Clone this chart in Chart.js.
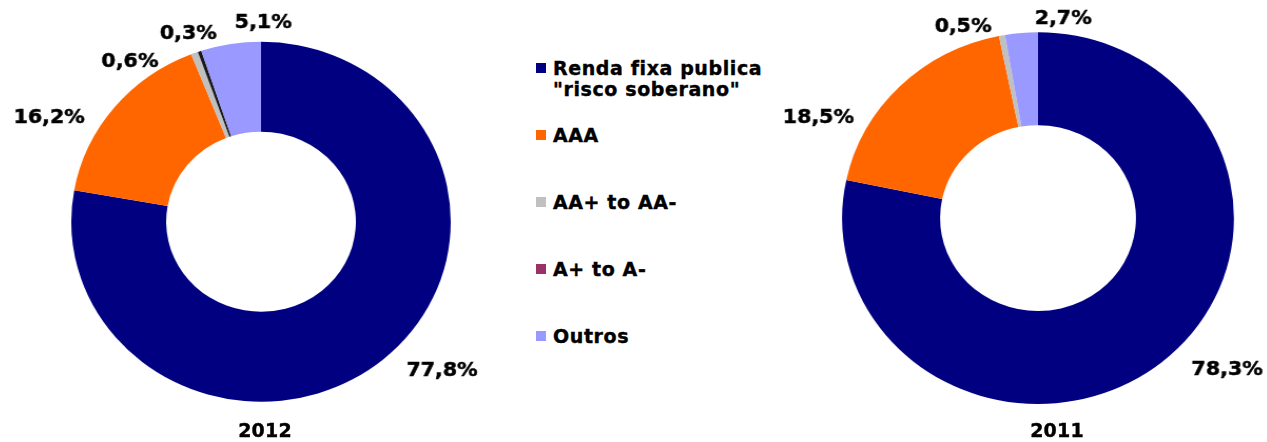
<!DOCTYPE html>
<html>
<head>
<meta charset="utf-8">
<script src="https://cdn.jsdelivr.net/npm/chart.js@4/dist/chart.umd.min.js"></script>
<style>
  html, body { margin: 0; padding: 0; background: #fff; overflow: hidden; }
  body { width: 1267px; height: 442px; position: relative; font-family: "DejaVu Sans", Verdana, sans-serif; font-weight: bold; color: #000; }
  .pie { position: absolute; top: 0; width: 500px; height: 442px; transform: scaleX(1.054); transform-origin: 250px 0; }
  .year { position: absolute; top: 419px; width: 100px; margin-left: -50px; text-align: center; font-size: 19px; line-height: 22px; letter-spacing: 0.2px; -webkit-text-stroke: 0.4px #000; }
  .item { position: absolute; left: 536px; font-size: 19px; line-height: 21.5px; letter-spacing: 0.6px; -webkit-text-stroke: 0.4px #000; }
  .item .box { position: absolute; left: 0; top: 5px; width: 10px; height: 10px; }
  .item .txt { margin-left: 17px; white-space: nowrap; }
</style>
</head>
<body>
<div class="pie" id="wrap2012" style="left:11px"><canvas id="pie2012"></canvas></div>
<div class="pie" id="wrap2011" style="left:788px"><canvas id="pie2011"></canvas></div>
<div class="year" style="left:265px">2012</div>
<div class="year" style="left:1057px">2011</div>
<div id="legend"></div>
<script>
// categories and values (%)
const categories = ['Renda fixa publica\n"risco soberano"', 'AAA', 'AA+ to AA-', 'A+ to A-', 'Outros'];
const values2012 = [77.8, 16.2, 0.6, 0.3, 5.1];
const values2011 = [78.3, 18.5, 0.5, 0, 2.7];

const legendColors = ['#000080', '#FF6600', '#C0C0C0', '#993366', '#9999FF'];
const sliceColors = ['#000080', '#FF6600', '#C0C0C0', '#1a1a1a', '#9999FF'];

// label placement: angle nudge (deg) from slice middle, distance as share of outer radius
const labelShift2012 = [-9.1, -11.9, -17.4, -1.3, 9.8];
const labelDist2012 = [1.263, 1.257, 1.124, 1.111, 1.104];
const labelShift2011 = [-10.8, -19.5, -9.8, 0, 11.7];
const labelDist2011 = [1.263, 1.244, 1.096, 1, 1.081];

function fmt(v) {
  return v.toFixed(1).replace('.', ',') + '%';
}

const pctLabels = {
  id: 'pctLabels',
  afterDatasetsDraw(chart, args, opts) {
    const ctx = chart.ctx;
    const meta = chart.getDatasetMeta(0);
    const vals = chart.data.datasets[0].data;
    ctx.save();
    ctx.font = 'bold 19.5px "DejaVu Sans"';
    ctx.fillStyle = '#000';
    ctx.strokeStyle = '#000';
    ctx.lineWidth = 0.5;
    ctx.textAlign = 'center';
    ctx.textBaseline = 'middle';
    meta.data.forEach((arc, i) => {
      if (!vals[i]) return;
      const p = arc.getProps(['x', 'y', 'startAngle', 'endAngle', 'outerRadius'], true);
      const a = (p.startAngle + p.endAngle) / 2 + opts.shift[i] * Math.PI / 180;
      const r = p.outerRadius * opts.dist[i];
      const x = p.x + Math.cos(a) * r;
      const y = p.y + Math.sin(a) * r;
      ctx.fillText(fmt(vals[i]), x, y);
      ctx.strokeText(fmt(vals[i]), x, y);
    });
    ctx.restore();
  }
};

function makeDoughnut(id, values, padTop, padBottom, shift, dist) {
  const ctx = document.getElementById(id);
  return new Chart(ctx, {
    type: 'doughnut',
    data: {
      labels: categories,
      datasets: [{
        data: values,
        backgroundColor: sliceColors,
        borderWidth: 0,
        hoverOffset: 0
      }]
    },
    options: {
      responsive: true,
      maintainAspectRatio: false,
      animation: false,
      events: [],
      cutout: '50%',
      layout: { padding: { top: padTop, bottom: padBottom, left: 0, right: 0 } },
      plugins: {
        legend: { display: false },
        tooltip: { enabled: false },
        pctLabels: { shift: shift, dist: dist }
      }
    },
    plugins: [pctLabels]
  });
}

makeDoughnut('pie2012', values2012, 41.7, 40.3, labelShift2012, labelDist2012);
makeDoughnut('pie2011', values2011, 32.3, 38, labelShift2011, labelDist2011);

// legend
const legend = document.getElementById('legend');
categories.forEach((c, i) => {
  const item = document.createElement('div');
  item.className = 'item';
  item.style.top = (57.7 + 67 * i) + 'px';
  const box = document.createElement('span');
  box.className = 'box';
  box.style.background = legendColors[i];
  const txt = document.createElement('div');
  txt.className = 'txt';
  txt.innerHTML = c.split('\n').join('<br>');
  item.appendChild(box);
  item.appendChild(txt);
  legend.appendChild(item);
});
</script>
</body>
</html>
